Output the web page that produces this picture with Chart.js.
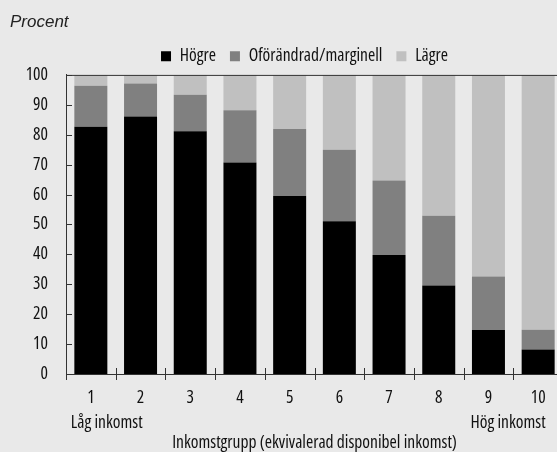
<!DOCTYPE html>
<html>
<head>
<meta charset="utf-8">
<script src="https://cdn.jsdelivr.net/npm/chart.js@4.4.0/dist/chart.umd.min.js"></script>
<style>
  html, body { margin: 0; padding: 0; background: #e9e9e9; overflow: hidden; }
  #wrap { width: 565px; height: 452px; }
</style>
</head>
<body>
<div id="wrap"><canvas id="chart"></canvas></div>
<script>
// Inkomstgrupp (deciler) och andel i procent
const groups = ['1', '2', '3', '4', '5', '6', '7', '8', '9', '10'];
const hogre = [82.7, 86.1, 81.2, 70.7, 59.5, 51.1, 39.8, 29.6, 14.7, 8.2];
const oforandrad = [13.7, 11.0, 12.2, 17.5, 22.4, 23.9, 24.9, 23.3, 17.9, 6.6];
const lagre = [3.6, 2.9, 6.6, 11.8, 18.1, 25.0, 35.3, 47.1, 67.4, 85.2];
const yTicks = [0, 10, 20, 30, 40, 50, 60, 70, 80, 90, 100];

// condensed Open Sans ("condensed" goes into the font string through weight)
const family = "'Open Sans', sans-serif";
const fontStr = "condensed 17.5px " + family;
Chart.defaults.font.family = family;
Chart.defaults.font.size = 17.5;
Chart.defaults.font.weight = 'condensed';
Chart.defaults.color = '#111';

// tick marks, top frame line and the two end texts under the axis
const axisExtras = {
  id: 'axisExtras',
  afterLayout(chart) {
    // legend sits a bit right of centre in the original
    chart.legend.left += 18;
    chart.legend.right += 18;
  },
  afterDraw(chart) {
    const { ctx, chartArea: a, scales } = chart;
    const x = scales.x, y = scales.y;
    ctx.save();
    ctx.strokeStyle = '#333';
    ctx.lineWidth = 1;
    ctx.beginPath();
    ctx.moveTo(a.left, a.top + 0.5);
    ctx.lineTo(a.right, a.top + 0.5);
    y.ticks.forEach((t, i) => {
      const py = Math.round(y.getPixelForTick(i)) + 0.5;
      ctx.moveTo(a.left, py);
      ctx.lineTo(a.left + 6, py);
    });
    for (let i = 0; i < groups.length; i++) {
      const px = Math.round(x.getPixelForValue(i - 0.5)) + 0.5;
      ctx.moveTo(px, a.bottom - 6);
      ctx.lineTo(px, a.bottom + 6);
    }
    ctx.stroke();

    ctx.fillStyle = '#111';
    ctx.font = fontStr;
    ctx.textBaseline = 'alphabetic';
    ctx.textAlign = 'left';
    ctx.fillText('Låg inkomst', x.getPixelForValue(0) - 20, 428);
    ctx.textAlign = 'right';
    ctx.fillText('Hög inkomst', x.getPixelForValue(groups.length - 1) + 7.5, 428);
    ctx.restore();
  }
};

new Chart(document.getElementById('chart'), {
  type: 'bar',
  data: {
    labels: groups,
    datasets: [
      { label: 'Högre', data: hogre, backgroundColor: '#000000', borderWidth: 0 },
      { label: 'Oförändrad/marginell', data: oforandrad, backgroundColor: '#808080', borderWidth: 0 },
      { label: 'Lägre', data: lagre, backgroundColor: '#c0c0c0', borderWidth: 0 }
    ]
  },
  options: {
    responsive: true,
    maintainAspectRatio: false,
    animation: false,
    layout: { padding: { left: 10, right: 2, top: 0, bottom: 0 } },
    datasets: { bar: { categoryPercentage: 1, barPercentage: 0.664 } },
    plugins: {
      title: {
        display: true,
        text: 'Procent',
        align: 'start',
        color: '#222',
        font: { family: "'Liberation Sans', Arial, sans-serif", size: 17, style: 'italic', weight: 'normal' },
        padding: { top: 12, bottom: 1 }
      },
      legend: {
        position: 'top',
        labels: { boxWidth: 10, boxHeight: 10, padding: 14, color: '#111' }
      },
      tooltip: { enabled: false }
    },
    scales: {
      x: {
        stacked: true,
        grid: { display: false, drawTicks: false },
        border: { display: true, color: '#333' },
        ticks: { padding: 14, autoSkip: false, maxRotation: 0 },
        title: {
          display: true,
          text: 'Inkomstgrupp (ekvivalerad disponibel inkomst)',
          color: '#111',
          padding: { top: 10, bottom: -2 }
        }
      },
      y: {
        stacked: true,
        min: 0,
        max: 100,
        afterBuildTicks: s => { s.ticks = yTicks.map(v => ({ value: v })); },
        afterFit: s => { s.width = 56; },
        grid: { display: false, drawTicks: false },
        border: { display: true, color: '#333' },
        ticks: { padding: 18 }
      }
    }
  },
  plugins: [axisExtras]
});
</script>
</body>
</html>
